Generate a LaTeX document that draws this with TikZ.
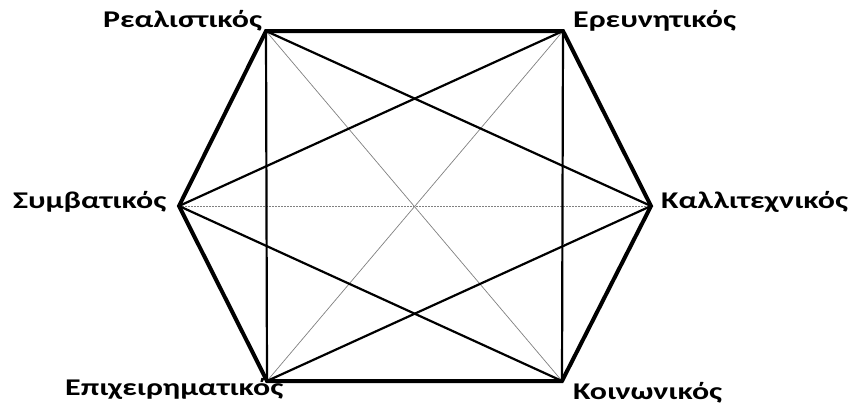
\documentclass[tikz,border=0pt]{standalone}
\usepackage{fontspec}
\setmainfont{Carlito}
\newfontfamily\lblfont[FakeStretch=1.33]{Carlito}
\begin{document}
\begin{tikzpicture}[x=1pt,y=-1pt,
  lbl/.style={inner sep=0pt,font=\lblfont\fontsize{24}{28}\selectfont\bfseries},
  hexedge/.style={line width=4pt,line join=miter},
  inner/.style={line width=2.2pt},
  thin/.style={line width=0.7pt,gray},
  dashline/.style={line width=0.8pt,gray,dash pattern=on 2pt off 1pt}]
\useasboundingbox (0,0) rectangle (848,410);
\coordinate (TL) at (266,31);
\coordinate (TR) at (563,31);
\coordinate (R) at (651,206);
\coordinate (BR) at (562,381);
\coordinate (BL) at (267,381);
\coordinate (L) at (179,206);
% thin diagonals
\draw[thin] (TL) -- (BR);
\draw[thin] (TR) -- (BL);
\draw[dashline] (L) -- (R);
% inner lines
\draw[inner] (TL) -- (BL);
\draw[inner] (TR) -- (BR);
\draw[inner] (TL) -- (R);
\draw[inner] (TR) -- (L);
\draw[inner] (L) -- (BR);
\draw[inner] (R) -- (BL);
% hexagon
\draw[hexedge] (TL) -- (TR) -- (R) -- (BR) -- (BL) -- (L) -- cycle;
% labels
\node[lbl,anchor=base west] (nRe) at (103,27) {Ρεαλιστικός};
\node[lbl,anchor=base west] (nEr) at (573,27) {Ερευνητικός};
\node[lbl,anchor=base west] (nSy) at (13,208) {Συμβατικός};
\node[lbl,anchor=base west] (nKa) at (661,208) {Καλλιτεχνικός};
\node[lbl,anchor=base west] (nEp) at (65,395) {Επιχειρηματικός};
\node[lbl,anchor=base west] (nKo) at (573,399) {Κοινωνικός};
\end{tikzpicture}
\end{document}
